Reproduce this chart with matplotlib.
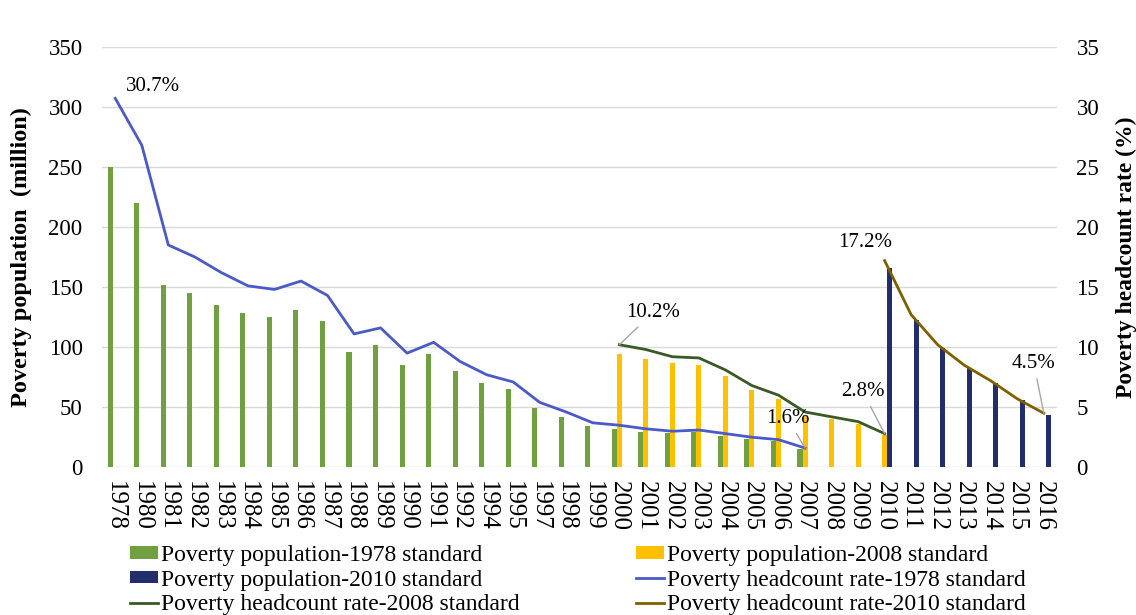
import matplotlib.pyplot as plt
import numpy as np

plt.rcParams['font.family'] = ['Liberation Serif', 'DejaVu Serif']

years = ['1978', '1980', '1981', '1982', '1983', '1984', '1985', '1986', '1987',
         '1988', '1989', '1990', '1991', '1992', '1994', '1995', '1997', '1998',
         '1999', '2000', '2001', '2002', '2003', '2004', '2005', '2006', '2007',
         '2008', '2009', '2010', '2011', '2012', '2013', '2014', '2015', '2016']

# poverty population (million)
years_1978 = years[:27]
pop_1978 = [250, 220, 152, 145, 135, 128, 125, 131, 122, 96, 102, 85, 94, 80,
            70, 65, 49.6, 42.1, 34.1, 32.1, 29.3, 28.2, 29.0, 26.1, 23.7, 21.5, 14.8]
years_2008 = years[19:30]
pop_2008 = [94.2, 90.3, 86.5, 85.2, 75.9, 64.3, 57.0, 43.2, 40.1, 36.0, 26.9]
years_2010 = years[29:]
pop_2010 = [165.7, 122.4, 99.0, 82.5, 70.2, 55.8, 43.4]

# poverty headcount rate (%)
rate_1978 = [30.7, 26.8, 18.5, 17.5, 16.2, 15.1, 14.8, 15.5, 14.3, 11.1, 11.6, 9.5,
             10.4, 8.8, 7.7, 7.1, 5.4, 4.6, 3.7, 3.5, 3.2, 3.0, 3.1, 2.8, 2.5, 2.3, 1.6]
rate_2008 = [10.2, 9.8, 9.2, 9.1, 8.1, 6.8, 6.0, 4.6, 4.2, 3.8, 2.8]
rate_2010 = [17.2, 12.7, 10.2, 8.5, 7.2, 5.7, 4.5]

GREEN = '#70A03F'
YELLOW = '#FFC000'
NAVY = '#222D6B'
BLUE = '#4A5AC8'
DKGREEN = '#3A5A25'
BROWN = '#7F6000'

x = np.arange(len(years))
pos = {y: i for i, y in enumerate(years)}
x78 = np.array([pos[y] for y in years_1978])
x08 = np.array([pos[y] for y in years_2008])
x10 = np.array([pos[y] for y in years_2010])
w = 0.19

fig = plt.figure(figsize=(11.36, 6.15), dpi=100)
ax = fig.add_axes([0.0898, 0.2402, 0.8407, 0.6838])
ax2 = ax.twinx()

b1 = ax.bar(x78 - w, pop_1978, width=w, color=GREEN, label='Poverty population-1978 standard')
b2 = ax.bar(x08, pop_2008, width=w, color=YELLOW, label='Poverty population-2008 standard')
b3 = ax.bar(x10 + w, pop_2010, width=w, color=NAVY, label='Poverty population-2010 standard')

l1, = ax2.plot(x78, rate_1978, color=BLUE, lw=2.0, label='Poverty headcount rate-1978 standard')
l2, = ax2.plot(x08, rate_2008, color=DKGREEN, lw=2.0, label='Poverty headcount rate-2008 standard')
l3, = ax2.plot(x10, rate_2010, color=BROWN, lw=2.0, label='Poverty headcount rate-2010 standard')

ax.set_xlim(-0.5, len(years) - 0.5)
ax.set_ylim(0, 350)
ax.set_yticks(range(0, 351, 50))
ax2.set_ylim(0, 35)
ax2.set_yticks(range(0, 36, 5))
ax.set_xticks(x)
ax.set_xticklabels(years, rotation=-90)

ax.grid(axis='y', color='#D9D9D9', lw=1)
ax.set_axisbelow(True)
for a in (ax, ax2):
    for s in a.spines.values():
        s.set_visible(False)
ax.tick_params(axis='y', length=0, pad=14, labelsize=16.5)
ax.tick_params(axis='x', length=0, pad=10, labelsize=18)
ax2.tick_params(axis='y', length=0, pad=14, labelsize=16.5)

ax.set_ylabel('Poverty population  (million)', fontsize=17.5, fontweight='bold', labelpad=12)
ax2.set_ylabel('Poverty headcount rate (%)', fontsize=17, fontweight='bold',
               rotation=90, labelpad=12)

# data labels
ax2.text(1.42, 31.7, '30.7%', fontsize=15, ha='center', va='center')
ax2.text(28.26, 18.7, '17.2%', fontsize=15, ha='center', va='center')
lead = dict(arrowstyle='-', color='#A6A6A6', lw=1, shrinkA=2, shrinkB=0)
ax2.annotate('10.2%', xy=(x08[0], rate_2008[0]), xytext=(20.27, 12.86), fontsize=15,
             ha='center', va='center', arrowprops=lead)
ax2.annotate('1.6%', xy=(x78[-1], rate_1978[-1]), xytext=(25.35, 4.03), fontsize=15,
             ha='center', va='center', arrowprops=lead)
ax2.annotate('2.8%', xy=(x08[-1], rate_2008[-1]), xytext=(28.18, 6.28), fontsize=15,
             ha='center', va='center', arrowprops=lead)
ax2.annotate('4.5%', xy=(x10[-1], rate_2010[-1]), xytext=(34.63, 8.6), fontsize=15,
             ha='center', va='center', arrowprops=lead)

handles = [b1, b3, l2, b2, l1, l3]
fig.legend(handles=handles, labels=[h.get_label() for h in handles], ncol=2,
           loc='lower left', bbox_to_anchor=(0.100, -0.027), frameon=False,
           fontsize=17, handlelength=1.2, handleheight=0.45, handletextpad=0.12,
           columnspacing=4.9, labelspacing=0.15, borderpad=0.2)

fig.savefig('out.png', dpi=100)
